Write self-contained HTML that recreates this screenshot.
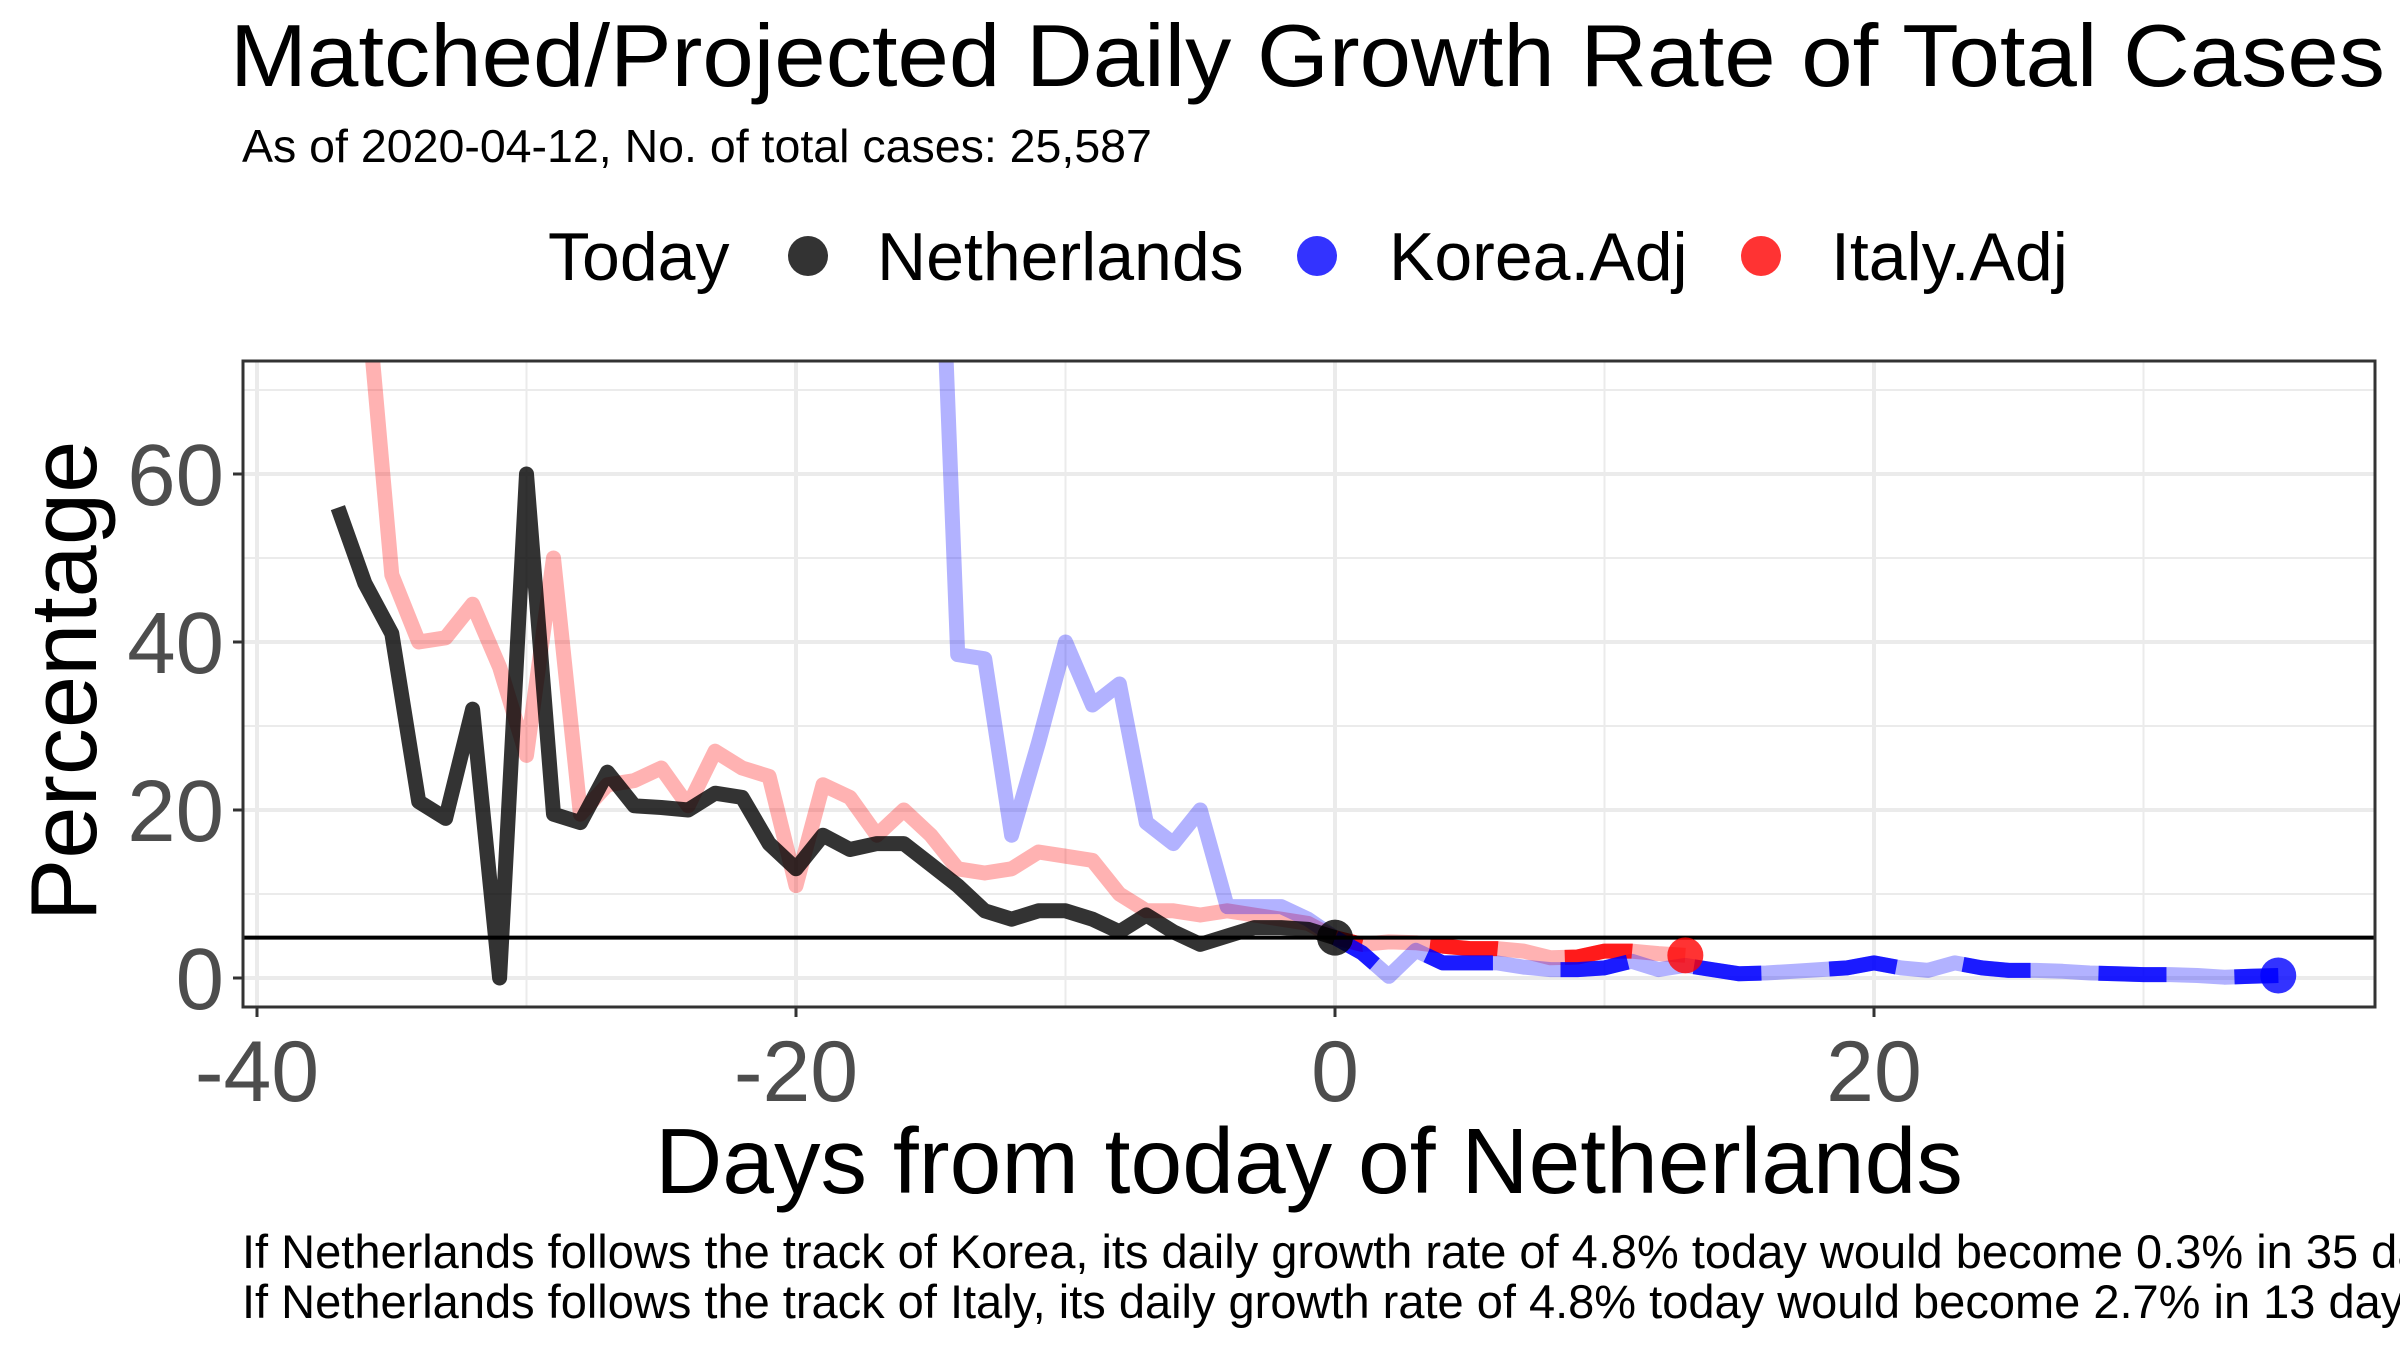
<!DOCTYPE html>
<html><head><meta charset="utf-8"><style>
html,body{margin:0;padding:0;background:#fff;}
svg{display:block;font-family:"Liberation Sans",Arial,sans-serif;}
</style></head><body>
<svg id="chart" width="2400" height="1350" viewBox="0 0 2400 1350">
<text x="230" y="86" font-size="88" fill="#000" textLength="2155" lengthAdjust="spacingAndGlyphs">Matched/Projected Daily Growth Rate of Total Cases</text>
<text x="242" y="162" font-size="46.5" fill="#000">As of 2020-04-12, No. of total cases: 25,587</text>
<g>
<text x="548" y="280" font-size="68" fill="#000">Today</text>
<circle cx="808" cy="256" r="20" fill="#000" fill-opacity="0.8"/>
<text x="877" y="280" font-size="68" fill="#000">Netherlands</text>
<circle cx="1317" cy="256" r="20" fill="#0000ff" fill-opacity="0.8"/>
<text x="1389" y="280" font-size="68" fill="#000">Korea.Adj</text>
<circle cx="1761" cy="256" r="20" fill="#ff0000" fill-opacity="0.8"/>
<text x="1831" y="280" font-size="68" fill="#000">Italy.Adj</text>
</g>
<defs><clipPath id="pc"><rect x="243" y="361" width="2132" height="646"/></clipPath></defs>
<g id="grid"></g>
<g id="marks" clip-path="url(#pc)"></g>
<rect x="243" y="361" width="2132" height="646" fill="none" stroke="#333" stroke-width="3"/>
<g id="axes"></g>
<text x="1309" y="1193" font-size="93" text-anchor="middle" fill="#000">Days from today of Netherlands</text>
<text transform="translate(96,681) rotate(-90)" font-size="94" text-anchor="middle" fill="#000">Percentage</text>
<text x="242" y="1268" font-size="47" fill="#000">If Netherlands follows the track of Korea, its daily growth rate of 4.8% today would become 0.3% in 35 days</text>
<text x="242" y="1318" font-size="47" fill="#000">If Netherlands follows the track of Italy, its daily growth rate of 4.8% today would become 2.7% in 13 days</text>
</svg>
<script>
const nlDays = [-37,-36,-35,-34,-33,-32,-31,-30,-29,-28,-27,-26,-25,-24,-23,-22,-21,-20,-19,-18,-17,-16,-15,-14,-13,-12,-11,-10,-9,-8,-7,-6,-5,-4,-3,-2,-1,0];
const nlVals = [56,47,41,21,19,32,0,60,19.5,18.5,24.5,20.5,20.3,20,22,21.5,16,13,17,15.3,16,16,13.5,11,8,7,8,8,7,5.5,7.5,5.5,4,5,6,6,5.8,4.8];
const itDays = [-36,-35,-34,-33,-32,-31,-30,-29,-28,-27,-26,-25,-24,-23,-22,-21,-20,-19,-18,-17,-16,-15,-14,-13,-12,-11,-10,-9,-8,-7,-6,-5,-4,-3,-2,-1,0,1,2,3,4,5,6,7,8,9,10,11,12,13];
const itVals = [84,48,40,40.5,44.5,37,26.5,50,19.5,23,23.5,25,20.5,27,25,24,11,23,21.5,17,20,17,13,12.5,13,15,14.5,14,10,8,8,7.5,8,7.5,7,6.5,4.8,4,4.3,4.2,3.8,3.5,3.5,3.2,2.4,2.5,3.2,3.2,2.9,2.7];
const krDays = [-15,-14,-13,-12,-11,-10,-9,-8,-7,-6,-5,-4,-3,-2,-1,0,1,2,3,4,5,6,7,8,9,10,11,12,13,14,15,16,17,18,19,20,21,22,23,24,25,26,27,28,29,30,31,32,33,34,35];
const krVals = [120,38.5,38,17,28,40,32.5,35,18.5,16,20,8.5,8.5,8.5,7,4.8,3,0.2,3.3,1.8,1.8,1.8,1.3,1,1,1.2,2,1,1.5,1,0.5,0.6,0.8,1,1.2,1.8,1.2,0.9,1.8,1.2,0.9,0.9,0.8,0.6,0.5,0.4,0.4,0.3,0.1,0.2,0.3];
const todayRate = 4.8;
const xTicks = [-40,-20,0,20];
const yTicks = [0,20,40,60];

const NS='http://www.w3.org/2000/svg';
const X = d => 1335 + d*26.95;
const Y = v => 978 - v*8.4;
function mk(tag, attrs, parent){const e=document.createElementNS(NS,tag);for(const k in attrs)e.setAttribute(k,attrs[k]);parent.appendChild(e);return e;}
const grid=document.getElementById('grid'), marks=document.getElementById('marks'), axes=document.getElementById('axes');
for(let v=-30; v<=70; v+=20){ if(v<-3)continue; const l=mk('line',{x1:243,x2:2375,y1:Y(v),y2:Y(v),stroke:'#ebebeb','stroke-width':2},grid);

}
for(let d=-30; d<=30; d+=20){const l=mk('line',{x1:X(d),x2:X(d),y1:361,y2:1007,stroke:'#ebebeb','stroke-width':2},grid);

}
yTicks.forEach(v=>{const l=mk('line',{x1:243,x2:2375,y1:Y(v),y2:Y(v),stroke:'#ebebeb','stroke-width':4},grid);


const t=mk('line',{x1:233,x2:243,y1:Y(v),y2:Y(v),stroke:'#333','stroke-width':3},axes);


const tx=mk('text',{x:224,y:Y(v)+31,'font-size':87,'text-anchor':'end',fill:'#4d4d4d'},axes);tx.textContent=v;

});
xTicks.forEach(d=>{const l=mk('line',{x1:X(d),x2:X(d),y1:361,y2:1007,stroke:'#ebebeb','stroke-width':4},grid);


const t=mk('line',{x1:X(d),x2:X(d),y1:1007,y2:1017,stroke:'#333','stroke-width':3},axes);


const tx=mk('text',{x:X(d),y:1101,'font-size':86,'text-anchor':'middle',fill:'#4d4d4d'},axes);tx.textContent=d;

});
function path(days, vals, from){let s='';days.forEach((d,i)=>{if(from!==undefined&&d<from)return;s+=(s?'L':'M')+X(d).toFixed(1)+','+Y(vals[i]).toFixed(1);});return s;}
const common={fill:'none','stroke-width':15,'stroke-linejoin':'round'};
let p;
p=mk('path',Object.assign({d:path(itDays,itVals),stroke:'#ff0000','stroke-opacity':0.3},common),marks);


p=mk('path',Object.assign({d:path(krDays,krVals),stroke:'#0000ff','stroke-opacity':0.3},common),marks);


p=mk('path',Object.assign({d:path(itDays,itVals,0),stroke:'#ff0000','stroke-opacity':0.85,'stroke-dasharray':'68 68','stroke-dashoffset':'40','stroke-linejoin':'miter'},common),marks);


p=mk('path',Object.assign({d:path(krDays,krVals,0),stroke:'#0000ff','stroke-opacity':0.85,'stroke-dasharray':'68 68','stroke-dashoffset':'20','stroke-linejoin':'miter'},common),marks);


p=mk('path',Object.assign({d:path(nlDays,nlVals),stroke:'#000','stroke-opacity':0.8},common),marks);


p=mk('line',{x1:243,x2:2375,y1:Y(todayRate),y2:Y(todayRate),stroke:'#000','stroke-width':4},marks);


p=mk('circle',{cx:X(nlDays[nlDays.length-1]),cy:Y(nlVals[nlVals.length-1]),r:18,fill:'#000','fill-opacity':0.8},marks);


p=mk('circle',{cx:X(itDays[itDays.length-1]),cy:Y(itVals[itVals.length-1]),r:18,fill:'#ff0000','fill-opacity':0.8},marks);


p=mk('circle',{cx:X(krDays[krDays.length-1]),cy:Y(krVals[krVals.length-1]),r:18,fill:'#0000ff','fill-opacity':0.8},marks);


</script>
</body></html>
